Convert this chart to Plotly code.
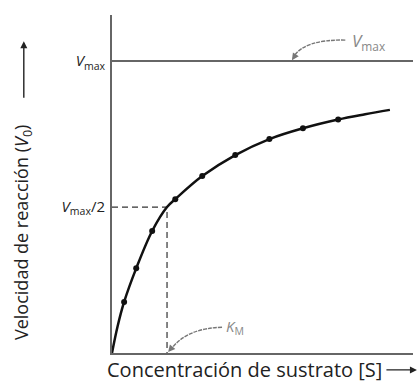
import plotly.graph_objects as go

# Data (substrate in units of Km, velocity in units of Vmax)
s_points = [0.22, 0.44, 0.73, 1.15, 1.64, 2.24, 2.86, 3.47, 4.11]
v_points = [0.175, 0.29, 0.418, 0.527, 0.606, 0.678, 0.733, 0.77, 0.80]
s_curve = [0.0, 0.1, 0.22, 0.44, 0.73, 1.0, 1.15, 1.64, 2.24, 2.86, 3.47, 4.11, 4.6, 5.05]
v_curve = [0.0, 0.09, 0.175, 0.29, 0.418, 0.5, 0.527, 0.606, 0.678, 0.733, 0.77, 0.80, 0.818, 0.833]
vmax = 1.0
km = 1.0
x_max = 5.47
y_max = 1.158
tick_vals = [vmax / 2, vmax]
tick_text = ["<i>V</i><sub>max</sub>/2", "<i>V</i><sub>max</sub>"]

FONT = "Open Sans"
AX = "#666666"

fig = go.Figure()
# Vmax line
fig.add_trace(go.Scatter(x=[0, x_max], y=[vmax, vmax], mode="lines",
                         line=dict(color="#666666", width=2), hoverinfo="skip"))
# dashed guides
fig.add_trace(go.Scatter(x=[0, km, km], y=[vmax / 2, vmax / 2, 0], mode="lines",
                         line=dict(color="#333333", width=1.2, dash="6px,4px"), hoverinfo="skip"))
# curve
fig.add_trace(go.Scatter(x=s_curve, y=v_curve, mode="lines", line_shape="spline",
                         line=dict(color="#111111", width=2.5), hoverinfo="skip"))
# points
fig.add_trace(go.Scatter(x=s_points, y=v_points, mode="markers",
                         marker=dict(color="#111111", size=6), hoverinfo="skip"))

# curved pointer lines
fig.add_shape(type="path", xref="x", yref="y",
              path="M 4.24,1.072 Q 3.5,1.075 3.3,1.015",
              line=dict(color="#777777", width=1.4, dash="4px,1px"))
fig.add_annotation(x=3.27, y=1.003, ax=4, ay=-6, xref="x", yref="y",
                   text="", showarrow=True, arrowhead=2, arrowsize=1, arrowwidth=1.4,
                   arrowcolor="#777777", standoff=0)
fig.add_annotation(x=4.33, y=1.068, xref="x", yref="y", xanchor="left",
                   text="<i>V</i><sub>max</sub>", showarrow=False,
                   font=dict(family=FONT, size=17, color="#888888"))

fig.add_shape(type="path", xref="x", yref="y",
              path="M 2.0,0.088 Q 1.35,0.085 1.07,0.012",
              line=dict(color="#777777", width=1.4, dash="4px,1px"))
fig.add_annotation(x=km + 0.02, y=0.003, ax=5, ay=-6, xref="x", yref="y",
                   text="", showarrow=True, arrowhead=2, arrowsize=1, arrowwidth=1.4,
                   arrowcolor="#777777", standoff=0)
fig.add_annotation(x=2.03, y=0.088, xref="x", yref="y", xanchor="left",
                   text="<i>K</i><sub>M</sub>", showarrow=False,
                   font=dict(family=FONT, size=15, color="#888888"))

# axis titles
fig.add_annotation(x=-0.299, y=0.355, xref="paper", yref="paper", textangle=-90,
                   xanchor="center", yanchor="middle",
                   text="Velocidad de reacción (<i>V</i><sub>0</sub>)", showarrow=False,
                   font=dict(family=FONT, size=18, color="#222222"))
fig.add_annotation(x=-0.293, y=0.922, ax=0, ay=58, xref="paper", yref="paper",
                   text="", showarrow=True, arrowhead=2, arrowsize=1, arrowwidth=1.4,
                   arrowcolor="#222222", standoff=0)
fig.add_annotation(x=-0.023, y=-0.05, xref="paper", yref="paper", xanchor="left", yanchor="middle",
                   text="Concentración de sustrato [S]", showarrow=False,
                   font=dict(family=FONT, size=20, color="#222222"))
fig.add_annotation(x=1.013, y=-0.05, ax=-32, ay=0, xref="paper", yref="paper",
                   text="", showarrow=True, arrowhead=2, arrowsize=1, arrowwidth=1.4,
                   arrowcolor="#222222", standoff=0)

fig.update_layout(
    width=418, height=383, autosize=False,
    margin=dict(l=112, r=5, t=15, b=30),
    paper_bgcolor="white", plot_bgcolor="white",
    showlegend=False,
    xaxis=dict(range=[0, x_max], showgrid=False, zeroline=False, showticklabels=False,
               showline=True, linecolor=AX, linewidth=2, ticks=""),
    yaxis=dict(range=[0, y_max], showgrid=False, zeroline=False, tickvals=tick_vals,
               ticktext=tick_text, showline=True, linecolor=AX, linewidth=2, ticks="",
               ticklabelstandoff=2,
               tickfont=dict(family=FONT, size=15, color="#222222")),
)

fig.write_html("out.html", config={"responsive": False, "displayModeBar": False},
               post_script="document.body.style.margin='0';document.body.style.overflow='hidden';")
